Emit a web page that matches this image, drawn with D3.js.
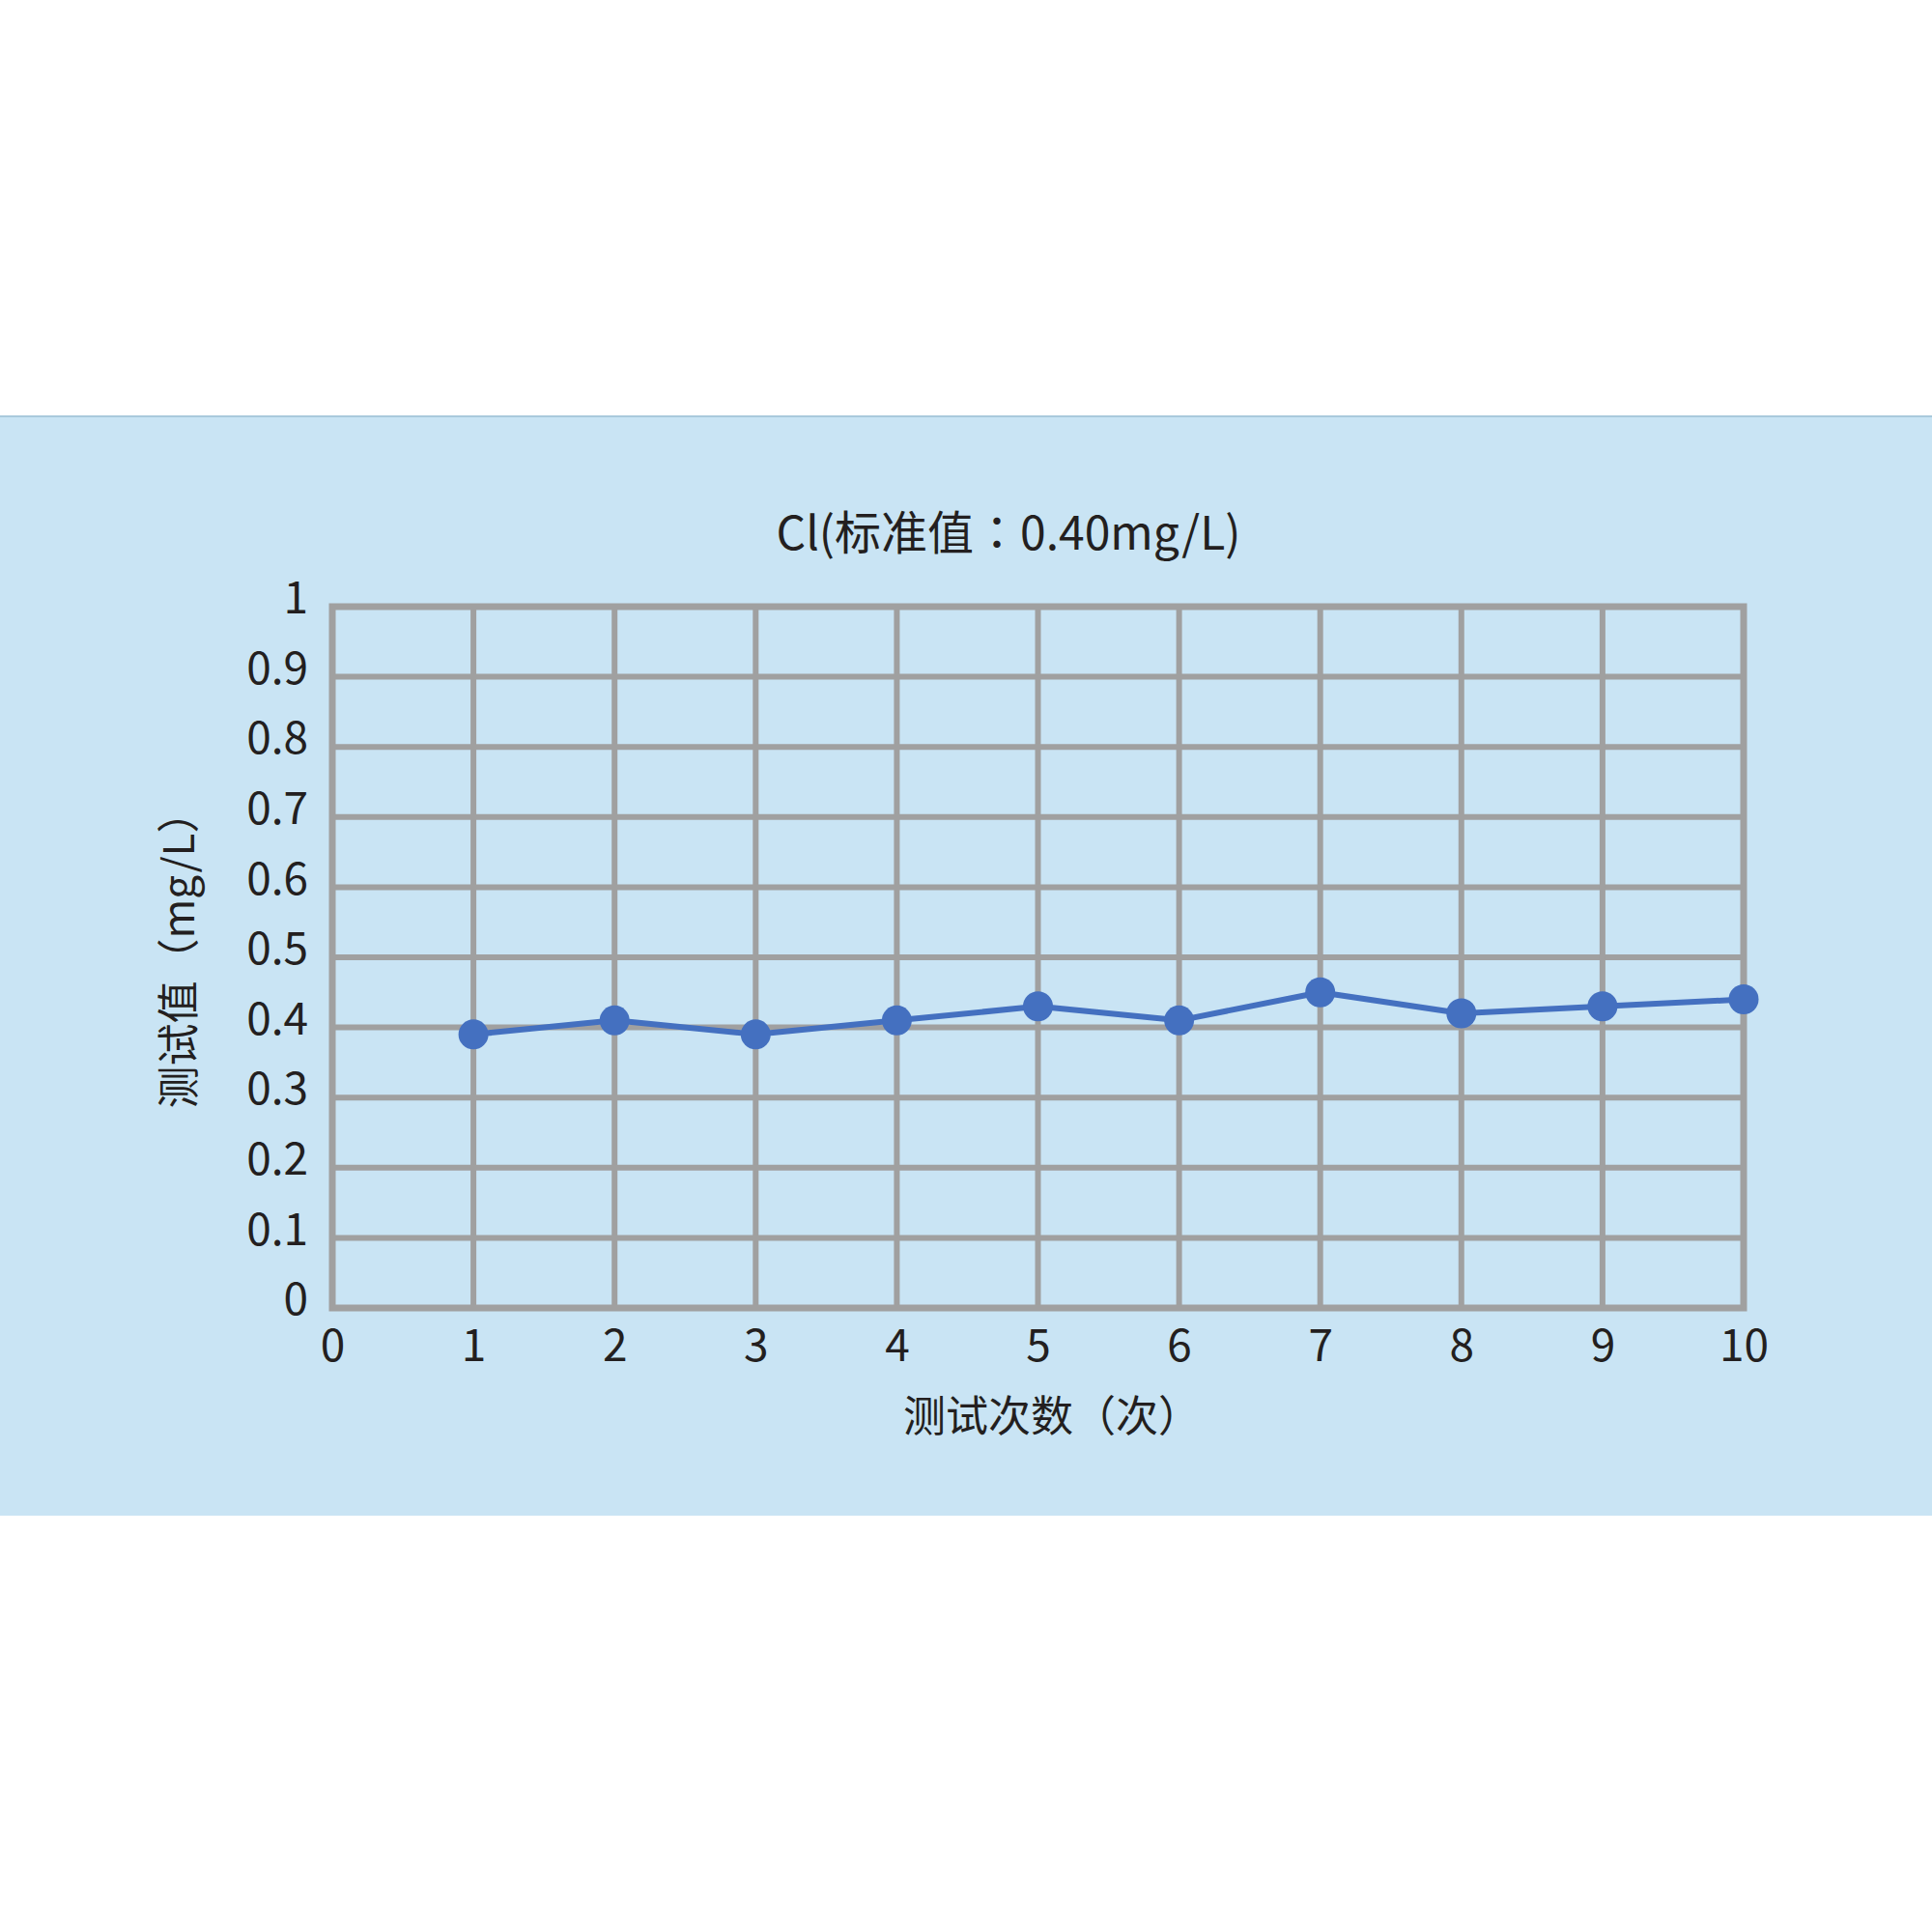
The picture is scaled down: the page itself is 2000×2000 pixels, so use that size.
<!DOCTYPE html>
<html>
<head>
<meta charset="utf-8">
<script src="https://cdn.jsdelivr.net/npm/d3@7"></script>
<style>
  html, body { margin: 0; padding: 0; background: #ffffff; }
  svg { display: block; }
  text { font-family: "Noto Sans CJK SC", "Noto Sans", sans-serif; fill: #231f20; }
</style>
</head>
<body>
<svg id="chart" width="2000" height="2000"></svg>
<script>
// ---- data ----
const titleParts = ["Cl(标准值", "：", "0.40mg/L)"];
const xTitle = "测试次数（次）";
const yTitle = "测试值（mg/L）";
const testNumbers = [1, 2, 3, 4, 5, 6, 7, 8, 9, 10];
const testValues = [0.39, 0.41, 0.39, 0.41, 0.43, 0.41, 0.45, 0.42, 0.43, 0.44];
const xTickValues = [0, 1, 2, 3, 4, 5, 6, 7, 8, 9, 10];
const yTickValues = [0, 0.1, 0.2, 0.3, 0.4, 0.5, 0.6, 0.7, 0.8, 0.9, 1];

// ---- layout ----
const svg = d3.select("#chart");
const panel = { top: 430, bottom: 1569 };
const plot = { left: 344, right: 1805, top: 628, bottom: 1354 };
const gridColor = "#a0a0a0";
const lineColor = "#4470c0";
const fontFam = '"Noto Sans CJK SC", "Noto Sans", sans-serif';

svg.append("rect").attr("x", 0).attr("y", 0).attr("width", 2000).attr("height", 2000).attr("fill", "#ffffff");
svg.append("rect").attr("x", 0).attr("y", panel.top).attr("width", 2000)
  .attr("height", panel.bottom - panel.top).attr("fill", "#c9e4f4");
svg.append("line").attr("x1", 0).attr("x2", 2000).attr("y1", panel.top + 1).attr("y2", panel.top + 1)
  .attr("stroke", "#a9c9dc").attr("stroke-width", 2);

const x = d3.scaleLinear().domain([0, 10]).range([plot.left, plot.right]);
const y = d3.scaleLinear().domain([0, 1]).range([plot.bottom, plot.top]);

// grid
const grid = svg.append("g");
grid.selectAll("line.h").data(yTickValues).join("line")
  .attr("x1", plot.left).attr("x2", plot.right)
  .attr("y1", d => y(d)).attr("y2", d => y(d))
  .attr("stroke", gridColor).attr("stroke-width", 6);
grid.selectAll("line.v").data(xTickValues).join("line")
  .attr("y1", plot.top).attr("y2", plot.bottom)
  .attr("x1", d => x(d)).attr("x2", d => x(d))
  .attr("stroke", gridColor).attr("stroke-width", 6);
grid.append("rect").attr("x", plot.left).attr("y", plot.top)
  .attr("width", plot.right - plot.left).attr("height", plot.bottom - plot.top)
  .attr("fill", "none").attr("stroke", gridColor).attr("stroke-width", 7);

// axes (labels only)
const yAxis = d3.axisLeft(y).tickValues(yTickValues).tickSize(0).tickPadding(0)
  .tickFormat(d => d3.format("~g")(d));
const gy = svg.append("g").attr("transform", `translate(${plot.left - 25},-8)`).call(yAxis);
gy.select(".domain").remove();
gy.selectAll("text").style("font-size", "46px").attr("fill", "#231f20").style("font-family", fontFam);

const xAxis = d3.axisBottom(x).tickValues(xTickValues).tickSize(0).tickPadding(0)
  .tickFormat(d3.format("d"));
const gx = svg.append("g").attr("transform", `translate(0,${plot.bottom + 22})`).call(xAxis);
gx.select(".domain").remove();
gx.selectAll("text").style("font-size", "46px").attr("fill", "#231f20").attr("dy", "0.71em")
  .style("font-family", fontFam);

// series
const pts = testNumbers.map((n, i) => [n, testValues[i]]);
svg.append("path").datum(pts)
  .attr("d", d3.line().x(d => x(d[0])).y(d => y(d[1])))
  .attr("fill", "none").attr("stroke", lineColor).attr("stroke-width", 6)
  .attr("stroke-linejoin", "round");
svg.append("g").selectAll("circle").data(pts).join("circle")
  .attr("cx", d => x(d[0])).attr("cy", d => y(d[1])).attr("r", 15.5)
  .attr("fill", lineColor);

// titles
const t = svg.append("text").attr("x", 1044).attr("y", 548).attr("text-anchor", "middle")
  .attr("dominant-baseline", "central").style("font-size", "48px");
t.append("tspan").text(titleParts[0]);
t.append("tspan").style("font-family", '"Noto Sans CJK TC", "Noto Sans CJK SC", sans-serif').text(titleParts[1]);
t.append("tspan").text(titleParts[2]);
svg.append("text").attr("x", 1089).attr("y", 1463).attr("text-anchor", "middle")
  .attr("dominant-baseline", "central").style("font-size", "44px").text(xTitle);
svg.append("text").attr("transform", `translate(182,983) rotate(-90)`).attr("text-anchor", "middle")
  .attr("dominant-baseline", "central").style("font-size", "44px").text(yTitle);
</script>
</body>
</html>
